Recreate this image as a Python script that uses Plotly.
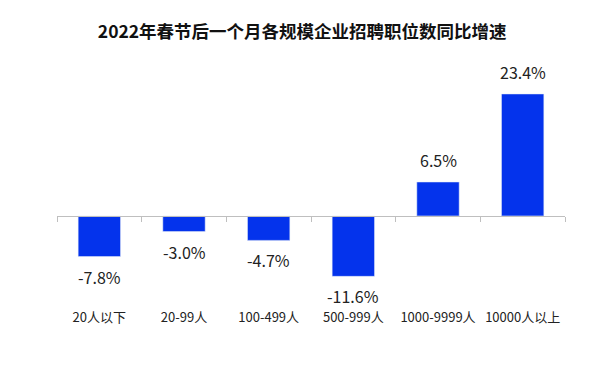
import plotly.graph_objects as go

categories = ["20人以下", "20-99人", "100-499人", "500-999人", "1000-9999人", "10000人以上"]
values = [-7.8, -3.0, -4.7, -11.6, 6.5, 23.4]
labels = ["-7.8%", "-3.0%", "-4.7%", "-11.6%", "6.5%", "23.4%"]

ymin, ymax = -21.9, 28.0
font = "Noto Sans CJK SC, Microsoft YaHei, sans-serif"

fig = go.Figure()
fig.add_trace(go.Bar(x=categories, y=values, marker_color="#0433EC", width=0.5,
                     hoverinfo="skip"))

for c, v, t in zip(categories, values, labels):
    fig.add_annotation(x=c, y=v, text=t, showarrow=False,
                       yanchor="bottom" if v >= 0 else "top",
                       yshift=8 if v >= 0 else -6,
                       font=dict(family=font, size=16, color="#222222"))

fig.update_layout(
    width=592, height=362,
    margin=dict(l=49, r=35, t=62, b=40, autoexpand=False),
    plot_bgcolor="white", paper_bgcolor="white",
    showlegend=False,
    title=dict(text="<b>2022年春节后一个月各规模企业招聘职位数同比增速</b>",
               x=0.497, xanchor="center", y=0.934, yanchor="middle",
               font=dict(family=font, size=17.5, color="#111111")),
    xaxis=dict(anchor="free", position=(0 - ymin) / (ymax - ymin),
               automargin=False,
               showline=True, linecolor="#bfbfbf", linewidth=1,
               ticks="outside", tickson="boundaries", ticklen=5, tickcolor="#bfbfbf",
               ticklabelstandoff=90,
               tickfont=dict(family=font, size=13, color="#222222"),
               showgrid=False),
    yaxis=dict(range=[ymin, ymax], visible=False, showgrid=False, zeroline=False,
               automargin=False),
)

fig.write_html("out.html")
